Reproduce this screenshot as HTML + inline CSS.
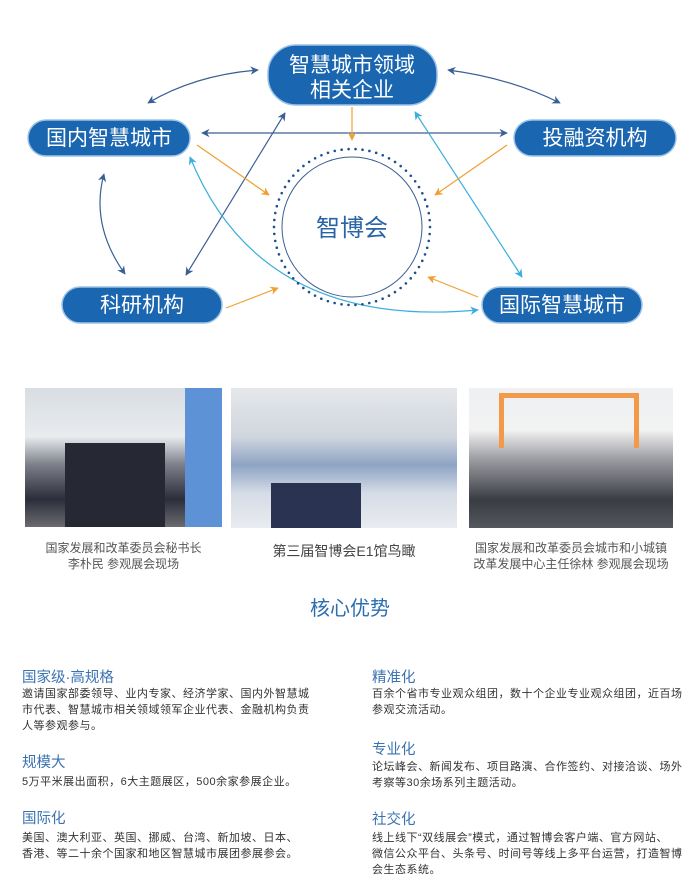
<!DOCTYPE html>
<html><head><meta charset="utf-8"><style>
body{margin:0;width:700px;height:888px;background:#fff;position:relative;overflow:hidden;font-family:"Liberation Sans","Noto Sans CJK SC",sans-serif}
.a{position:absolute}
.ph{position:absolute;overflow:hidden}
.cap{position:absolute;color:#555;font-size:12px;line-height:16px;text-align:center}
.h{position:absolute;color:#3a72b2;font-size:14.5px}
.b{position:absolute;color:#333;font-size:11px;line-height:16px;white-space:nowrap;letter-spacing:0.5px}
</style></head><body>
<svg class="a" style="left:0;top:0" width="700" height="340" viewBox="0 0 700 340">
<defs>
<marker id="d" viewBox="0 0 10 10" refX="9" refY="5" markerWidth="7" markerHeight="7" orient="auto-start-reverse"><path d="M0,0L10,5L0,10L3,5z" fill="#3a5f95"/></marker>
<marker id="l" viewBox="0 0 10 10" refX="9" refY="5" markerWidth="7" markerHeight="7" orient="auto-start-reverse"><path d="M0,0L10,5L0,10L3,5z" fill="#3aaedc"/></marker>
<marker id="o" viewBox="0 0 10 10" refX="9" refY="5" markerWidth="7" markerHeight="7" orient="auto"><path d="M0,0L10,5L0,10L3,5z" fill="#f0a030"/></marker>
</defs>
<g fill="none" stroke-width="1.2">
<path d="M148,103 Q195,75 258,70" stroke="#3a5f95" marker-start="url(#d)" marker-end="url(#d)"/>
<path d="M448,70 Q510,78 560,103" stroke="#3a5f95" marker-start="url(#d)" marker-end="url(#d)"/>
<path d="M202,133 L507,133" stroke="#3a5f95" marker-start="url(#d)" marker-end="url(#d)"/>
<path d="M104,174 Q90,225 125,274" stroke="#3a5f95" marker-start="url(#d)" marker-end="url(#d)"/>
<path d="M285,113 L186,275" stroke="#3a5f95" marker-start="url(#d)" marker-end="url(#d)"/>
<path d="M415,112 L522,277" stroke="#3aaedc" marker-start="url(#l)" marker-end="url(#l)"/>
<path d="M190,157 Q260,330 478,310" stroke="#3aaedc" marker-start="url(#l)" marker-end="url(#l)"/>
<path d="M352,107 L352,140" stroke="#f0a030" marker-end="url(#o)"/>
<path d="M197,145 L269,195" stroke="#f0a030" marker-end="url(#o)"/>
<path d="M507,145 L435,195" stroke="#f0a030" marker-end="url(#o)"/>
<path d="M226,308 L278,288" stroke="#f0a030" marker-end="url(#o)"/>
<path d="M478,297 L428,277" stroke="#f0a030" marker-end="url(#o)"/>
</g>
<circle cx="352" cy="227" r="78" fill="none" stroke="#1d4f8f" stroke-width="2.6" stroke-dasharray="0 7" stroke-linecap="round"/>
<circle cx="352" cy="227" r="70" fill="none" stroke="#3a5f95" stroke-width="1"/>
<text x="352" y="236" text-anchor="middle" font-size="24" fill="#2a64a6" font-family="Liberation Sans,Noto Sans CJK SC,sans-serif">智博会</text>
<g fill="#1a66b0" stroke="#9cc4e8" stroke-width="1.5">
<rect x="268" y="45" width="169" height="60" rx="28"/>
<rect x="28" y="120" width="162" height="36" rx="18"/>
<rect x="514" y="120" width="162" height="36" rx="18"/>
<rect x="62" y="287" width="160" height="36" rx="18"/>
<rect x="482" y="287" width="160" height="36" rx="18"/>
</g>
<g fill="#fff" font-size="21" text-anchor="middle" font-family="Liberation Sans,Noto Sans CJK SC,sans-serif">
<text x="352" y="72">智慧城市领域</text>
<text x="352" y="97">相关企业</text>
<text x="109" y="145">国内智慧城市</text>
<text x="595" y="145">投融资机构</text>
<text x="142" y="312">科研机构</text>
<text x="562" y="312">国际智慧城市</text>
</g>
</svg>
<div class="ph" style="left:25px;top:388px;width:197px;height:139px;background:linear-gradient(180deg,#d8dde2 0%,#e8ecef 35%,#7d808a 55%,#2b2e3a 80%,#6b6b70 100%)">
<div class="a" style="left:160px;top:0;width:37px;height:139px;background:#5e92d6"></div>
<div class="a" style="left:40px;top:55px;width:100px;height:84px;background:#262833"></div></div>
<div class="ph" style="left:231px;top:388px;width:226px;height:140px;background:linear-gradient(180deg,#e6e8ea 0%,#cfd6de 35%,#8ea3c4 55%,#d5dce6 75%,#e9ecf0 100%)">
<div class="a" style="left:40px;top:95px;width:90px;height:45px;background:#2a3452"></div></div>
<div class="ph" style="left:469px;top:388px;width:204px;height:140px;background:linear-gradient(180deg,#eef0f2 0%,#f2f2f2 30%,#9ea0a5 50%,#3a3c44 80%,#55575e 100%)">
<div class="a" style="left:30px;top:5px;width:130px;height:50px;border:5px solid #f39a4a;border-bottom:none"></div></div>
<div class="cap" style="left:25px;top:540px;width:197px">国家发展和改革委员会秘书长<br>李朴民 参观展会现场</div>
<div class="cap" style="left:231px;top:543px;width:226px;font-size:14px;color:#444">第三届智博会E1馆鸟瞰</div>
<div class="cap" style="left:460px;top:540px;width:222px">国家发展和改革委员会城市和小城镇<br>改革发展中心主任徐林 参观展会现场</div>
<div class="a" style="left:0;width:700px;top:592px;text-align:center;font-size:20px;color:#2a6fb0">核心优势</div>
<div class="h" style="left:22px;top:666px">国家级·高规格</div>
<div class="b" style="left:22px;top:686px">邀请国家部委领导、业内专家、经济学家、国内外智慧城<br>市代表、智慧城市相关领域领军企业代表、金融机构负责<br>人等参观参与。</div>
<div class="h" style="left:22px;top:751px">规模大</div>
<div class="b" style="left:22px;top:774px">5万平米展出面积，6大主题展区，500余家参展企业。</div>
<div class="h" style="left:22px;top:807px">国际化</div>
<div class="b" style="left:22px;top:830px">美国、澳大利亚、英国、挪威、台湾、新加坡、日本、<br>香港、等二十余个国家和地区智慧城市展团参展参会。</div>
<div class="h" style="left:372px;top:666px">精准化</div>
<div class="b" style="left:372px;top:686px">百余个省市专业观众组团，数十个企业专业观众组团，近百场<br>参观交流活动。</div>
<div class="h" style="left:372px;top:738px">专业化</div>
<div class="b" style="left:372px;top:759px">论坛峰会、新闻发布、项目路演、合作签约、对接洽谈、场外<br>考察等30余场系列主题活动。</div>
<div class="h" style="left:372px;top:808px">社交化</div>
<div class="b" style="left:372px;top:830px">线上线下“双线展会”模式，通过智博会客户端、官方网站、<br>微信公众平台、头条号、时间号等线上多平台运营，打造智博<br>会生态系统。</div>
</body></html>
